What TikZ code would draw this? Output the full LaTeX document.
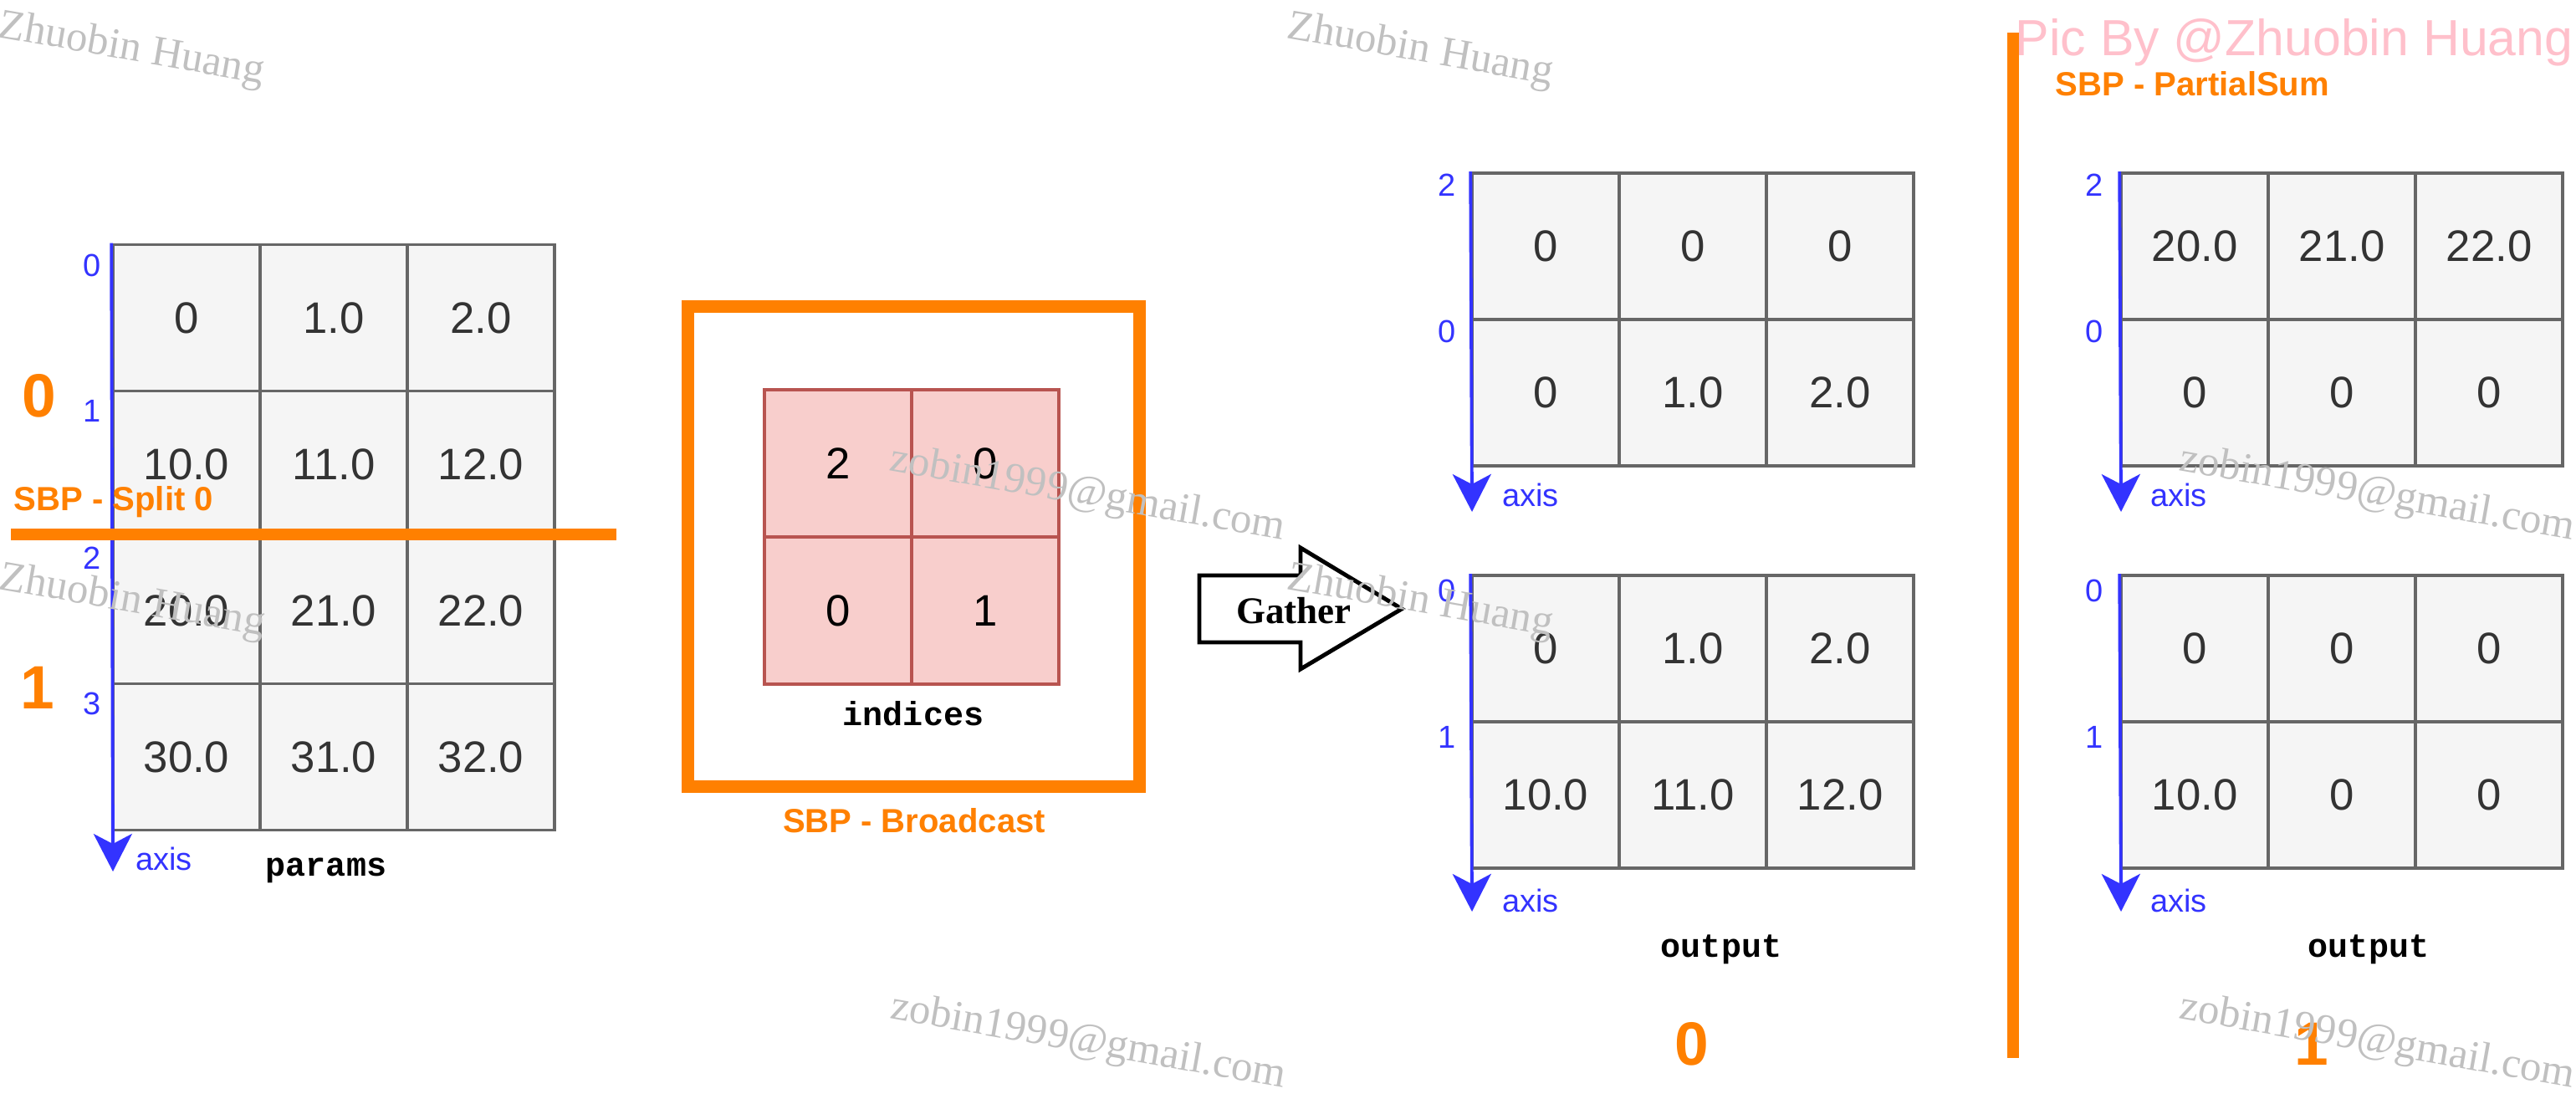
\documentclass[tikz,border=0pt]{standalone}
\usepackage{fontspec}
\setmainfont{Liberation Sans}
\setmonofont{Liberation Mono}
\newfontfamily\wmfont{Liberation Serif}
\usetikzlibrary{arrows.meta}

\definecolor{sbporange}{RGB}{255,128,0}
\definecolor{axisblue}{RGB}{51,51,255}
\definecolor{cellfill}{RGB}{245,245,245}
\definecolor{cellline}{RGB}{102,102,102}
\definecolor{celltext}{RGB}{51,51,51}
\definecolor{idxfill}{RGB}{248,206,204}
\definecolor{idxline}{RGB}{184,84,80}
\definecolor{wmgray}{RGB}{192,192,192}
\definecolor{picpink}{RGB}{255,192,203}

\begin{document}
\begin{tikzpicture}[
    >={Stealth[length=4.5mm, width=4.6mm, inset=1.2mm]},
    cell/.style={draw=cellline, fill=cellfill, line width=1pt, minimum width=1.76cm, minimum height=1.75cm, inner sep=0pt, text=celltext, font=\fontsize{15}{18}\selectfont},
    idx/.style={cell, draw=idxline, fill=idxfill, minimum height=1.76cm, text=black},
    idxlabel/.style={text=axisblue, inner sep=0pt, font=\fontsize{10.8}{13}\selectfont},
    axisline/.style={->, draw=axisblue, line width=1.1pt},
    tname/.style={font=\ttfamily\bfseries\fontsize{11.4}{14}\selectfont},
    sbp/.style={text=sbporange, inner sep=0pt, font=\bfseries\fontsize{11.4}{14}\selectfont},
    rankno/.style={text=sbporange, font=\bfseries\fontsize{20.8}{24}\selectfont},
    splitline/.style={draw=sbporange, line width=0.14cm},
    wm/.style={text=wmgray, font=\wmfont\fontsize{14.5}{17}\selectfont, rotate=-10}
]
    \useasboundingbox (0,0) rectangle (30.8,-13.2);

    % Params grid
    \node[cell] (p11) at (2.23,-3.80) {0};
    \node[cell] (p12) at (3.99,-3.80) {1.0};
    \node[cell] (p13) at (5.75,-3.80) {2.0};
    \node[cell] (p21) at (2.23,-5.55) {10.0};
    \node[cell] (p22) at (3.99,-5.55) {11.0};
    \node[cell] (p23) at (5.75,-5.55) {12.0};
    \node[cell] (p31) at (2.23,-7.30) {20.0};
    \node[cell] (p32) at (3.99,-7.30) {21.0};
    \node[cell] (p33) at (5.75,-7.30) {22.0};
    \node[cell] (p41) at (2.23,-9.05) {30.0};
    \node[cell] (p42) at (3.99,-9.05) {31.0};
    \node[cell] (p43) at (5.75,-9.05) {32.0};
    \coordinate (pend) at (1.35,-10.42);
    \draw[axisline] (p11.north west) -- (pend);
    \node[idxlabel] (pi0) at (1.10,-3.17) {0};
    \node[idxlabel] (pi1) at (1.10,-4.91) {1};
    \node[idxlabel] (pi2) at (1.10,-6.67) {2};
    \node[idxlabel] (pi3) at (1.10,-8.41) {3};
    \node[idxlabel] (pax) at (1.96,-10.27) {axis};
    \node[tname] (params) at (3.90,-10.41) {params};

    % Split 0
    \node[rankno] (pr0) at (0.47,-4.73) {0};
    \node[rankno] (pr1) at (0.45,-8.22) {1};
    \node[sbp, anchor=west] (split) at (0.16,-6.00) {SBP - Split 0};
    \draw[splitline] (0.13,-6.39) -- (7.37,-6.39);

    % Indices, broadcast
    \node[draw=sbporange, line width=0.15cm, minimum width=5.40cm, minimum height=5.73cm] (bcast) at (10.92,-6.535) {};
    \node[idx] (i11) at (10.02,-5.54) {2};
    \node[idx] (i12) at (11.78,-5.54) {0};
    \node[idx] (i21) at (10.02,-7.30) {0};
    \node[idx] (i22) at (11.78,-7.30) {1};
    \node[tname] (indices) at (10.92,-8.53) {indices};
    \node[sbp] (bclabel) at (10.93,-9.81) {SBP - Broadcast};

    % Gather arrow
    \draw[line width=1.4pt, fill=white] (14.34,-6.88) -- (15.55,-6.88) -- (15.55,-6.55) -- (16.76,-7.28) -- (15.55,-8.00) -- (15.55,-7.68) -- (14.34,-7.68) -- cycle;
    \node[font=\wmfont\bfseries\fontsize{12.8}{15}\selectfont] (gather) at (15.47,-7.30) {Gather};

    % Output on rank 0
    \node[cell] (a11) at (18.48,-2.945) {0};
    \node[cell] (a12) at (20.24,-2.945) {0};
    \node[cell] (a13) at (22.00,-2.945) {0};
    \node[cell] (a21) at (18.48,-4.695) {0};
    \node[cell] (a22) at (20.24,-4.695) {1.0};
    \node[cell] (a23) at (22.00,-4.695) {2.0};
    \coordinate (aend) at (17.60,-6.12);
    \draw[axisline] (a11.north west) -- (aend);
    \node[idxlabel] (ai2) at (17.30,-2.21) {2};
    \node[idxlabel] (ai0) at (17.30,-3.96) {0};
    \node[idxlabel] (aax) at (18.30,-5.92) {axis};

    \node[cell] (b11) at (18.48,-7.755) {0};
    \node[cell] (b12) at (20.24,-7.755) {1.0};
    \node[cell] (b13) at (22.00,-7.755) {2.0};
    \node[cell] (b21) at (18.48,-9.505) {10.0};
    \node[cell] (b22) at (20.24,-9.505) {11.0};
    \node[cell] (b23) at (22.00,-9.505) {12.0};
    \coordinate (bend) at (17.60,-10.90);
    \draw[axisline] (b11.north west) -- (bend);
    \node[idxlabel] (bi0) at (17.30,-7.06) {0};
    \node[idxlabel] (bi1) at (17.30,-8.81) {1};
    \node[idxlabel] (bax) at (18.30,-10.77) {axis};
    \node[tname] (out0) at (20.58,-11.35) {output};
    \node[rankno] (or0) at (20.23,-12.48) {0};

    % Separator, partial sum
    \draw[splitline] (24.07,-0.39) -- (24.07,-12.65);
    \node[sbp, anchor=west] (psum) at (24.57,-1.00) {SBP - PartialSum};

    % Output on rank 1
    \node[cell] (c11) at (26.24,-2.945) {20.0};
    \node[cell] (c12) at (28.00,-2.945) {21.0};
    \node[cell] (c13) at (29.76,-2.945) {22.0};
    \node[cell] (c21) at (26.24,-4.695) {0};
    \node[cell] (c22) at (28.00,-4.695) {0};
    \node[cell] (c23) at (29.76,-4.695) {0};
    \coordinate (cend) at (25.36,-6.12);
    \draw[axisline] (c11.north west) -- (cend);
    \node[idxlabel] (ci2) at (25.04,-2.21) {2};
    \node[idxlabel] (ci0) at (25.04,-3.96) {0};
    \node[idxlabel] (cax) at (26.05,-5.92) {axis};

    \node[cell] (d11) at (26.24,-7.755) {0};
    \node[cell] (d12) at (28.00,-7.755) {0};
    \node[cell] (d13) at (29.76,-7.755) {0};
    \node[cell] (d21) at (26.24,-9.505) {10.0};
    \node[cell] (d22) at (28.00,-9.505) {0};
    \node[cell] (d23) at (29.76,-9.505) {0};
    \coordinate (dend) at (25.36,-10.90);
    \draw[axisline] (d11.north west) -- (dend);
    \node[idxlabel] (di0) at (25.04,-7.06) {0};
    \node[idxlabel] (di1) at (25.04,-8.81) {1};
    \node[idxlabel] (dax) at (26.05,-10.77) {axis};
    \node[tname] (out1) at (28.32,-11.35) {output};
    \node[rankno] (or1) at (27.64,-12.48) {1};

    % Watermarks
    \node[text=picpink, anchor=west, inner sep=0pt, font=\fontsize{17.3}{20}\selectfont] (picby) at (24.09,-0.51) {Pic By @Zhuobin Huang};
    \node[wm] (wm1) at (1.57,-0.60) {Zhuobin Huang};
    \node[wm] (wm2) at (16.98,-0.61) {Zhuobin Huang};
    \node[wm] (wm3) at (13.00,-5.92) {zobin1999@gmail.com};
    \node[wm] (wm4) at (1.58,-7.20) {Zhuobin Huang};
    \node[wm] (wm5) at (16.98,-7.20) {Zhuobin Huang};
    \node[wm] (wm6) at (28.42,-5.92) {zobin1999@gmail.com};
    \node[wm] (wm7) at (13.01,-12.47) {zobin1999@gmail.com};
    \node[wm] (wm8) at (28.42,-12.47) {zobin1999@gmail.com};

\end{tikzpicture}
\end{document}
